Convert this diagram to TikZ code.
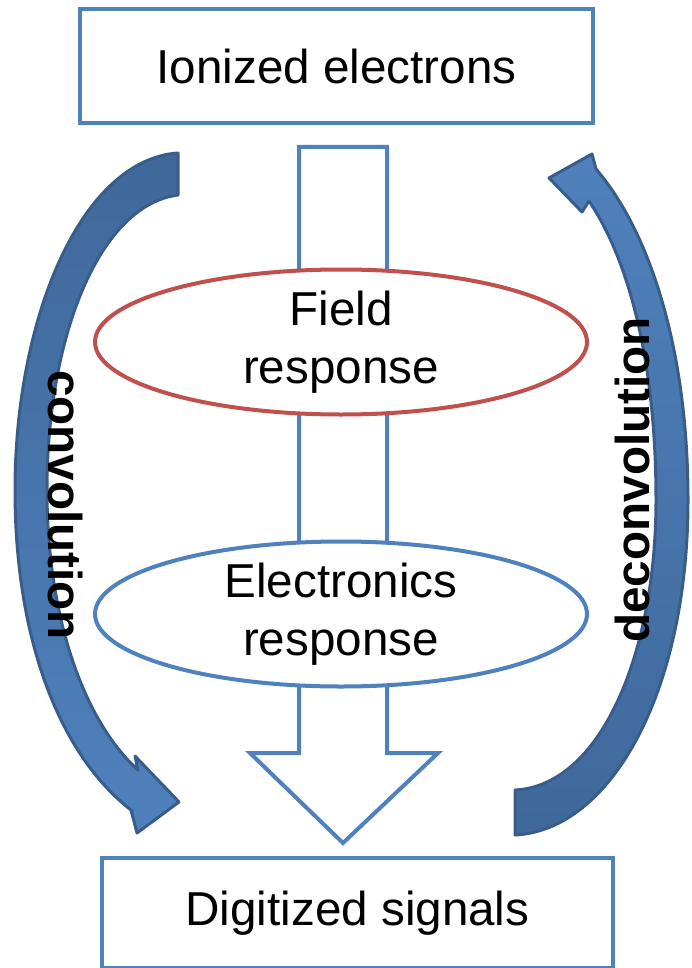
\documentclass[tikz,border=0pt]{standalone}
\usepackage{fontspec}
\setmainfont{Liberation Sans}
\usetikzlibrary{shapes.geometric}
\definecolor{boxblue}{RGB}{79,129,189}
\definecolor{boxred}{RGB}{192,80,77}
\definecolor{edgeblue}{RGB}{56,93,138}
\definecolor{backblue}{RGB}{64,104,154}
\tikzset{stagebox/.style = {draw=boxblue,line width=4pt,fill=white,minimum width=513pt,minimum height=114pt,font=\fontsize{47.6}{58}\selectfont}}
\tikzset{response/.style = {ellipse,line width=4pt,fill=white,inner sep=0pt,minimum width=492pt,minimum height=145pt,align=center,font=\fontsize{47.6}{58}\selectfont}}
\tikzset{bentarrow/.style = {draw=edgeblue,line width=3pt,line join=round}}
\tikzset{sidetext/.style = {font=\fontsize{47.6}{58}\selectfont\bfseries,inner sep=0pt}}

\begin{document}
\begin{tikzpicture}[x=1pt,y=-1pt]
                    \useasboundingbox (0,0) rectangle (691,968);

                    \draw[boxblue,line width=4pt,fill=white,line join=miter]
                        (299,147) -- (387,147) -- (387,753) -- (438,753) -- (343,843)
                        -- (250,753) -- (299,753) -- cycle;

                    \node[response,draw=boxred] (field) at (341,342) {Field\\response};
                    \node[response,draw=boxblue] (elec) at (341,614) {Electronics\\response};

                    \node[stagebox] (ionized) at (336.5,66) {Ionized electrons};
                    \node[stagebox,minimum width=511pt,minimum height=110pt] (digitized) at (357.5,913) {Digitized signals};

                    \path[bentarrow,top color=backblue,bottom color=boxblue]
                        (178,153) .. controls (80,160) and (15,320) .. (15,490)
                        .. controls (15,640) and (60,755) .. (131,810)
                        -- (137,833) -- (179,802) -- (135,756) -- (138,770)
                        .. controls (85,722) and (47,620) .. (47,490)
                        .. controls (47,335) and (100,205) .. (178,195) -- cycle;

                    \path[bentarrow,top color=boxblue,bottom color=backblue]
                        (515,835) .. controls (612,830) and (688,690) .. (688,500)
                        .. controls (688,350) and (650,232) .. (596,169)
                        -- (592,154) -- (549,178) -- (582,212) -- (589,201)
                        .. controls (630,262) and (656,365) .. (656,500)
                        .. controls (656,655) and (600,786) .. (515,790) -- cycle;

                    \node[sidetext,rotate=-90] (conv) at (66,505) {convolution};
                    \node[sidetext,rotate=90] (deconv) at (632,480) {deconvolution};
                \end{tikzpicture}
\end{document}
